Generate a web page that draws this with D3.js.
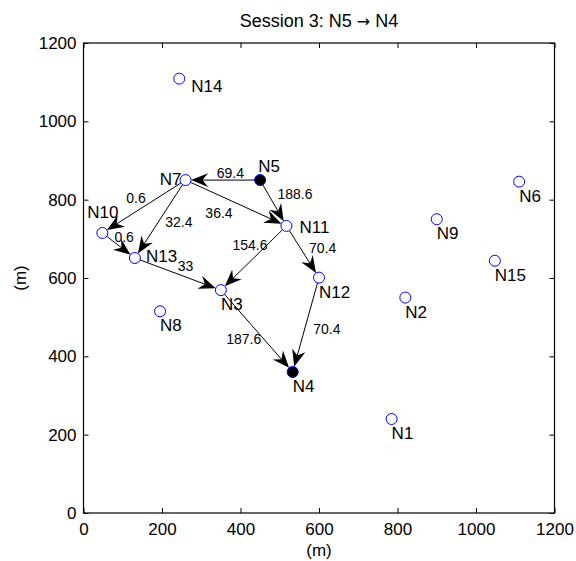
<!DOCTYPE html>
<html>
<head>
<meta charset="utf-8">
<script src="https://cdn.jsdelivr.net/npm/d3@7"></script>
<style>
  html, body { margin: 0; padding: 0; background: #fff; }
  svg { display: block; font-family: "Liberation Sans", Arial, Helvetica, sans-serif; }
</style>
</head>
<body>
<svg id="chart" width="576" height="561"></svg>
<script>
// ---------- data ----------
const titleParts = ["Session 3: N5 ", "\u2192", " N4"];
const xLabel = "(m)";
const yLabel = "(m)";
const tickValues = [0, 200, 400, 600, 800, 1000, 1200];

const nodeNames = ["N1","N2","N3","N4","N5","N6","N7","N8","N9","N10","N11","N12","N13","N14","N15"];
const nodeX = [785, 820, 350, 533, 450, 1110, 260, 195, 900, 48, 517, 600, 131, 244, 1048];
const nodeY = [240, 550, 569, 360, 850, 846, 850, 515, 750, 715, 733, 601, 651, 1109, 644];
const endpoints = ["N5", "N4"];

const edgeSource = ["N5","N5","N7","N7","N7","N10","N13","N11","N11","N3","N12"];
const edgeTarget = ["N7","N11","N10","N13","N11","N13","N3","N3","N12","N4","N4"];
const edgeWeight = ["69.4","188.6","0.6","32.4","36.4","0.6","33","154.6","70.4","187.6","70.4"];

// ---------- layout (pixel offsets for label placement) ----------
const edgeLabelDx = [7.5, 21.7, -8, 18.6, -17, 5.5, 7.6, -3.6, 20, -13, 21];
const edgeLabelDy = [-7.3, -9, -9, 3.3, 10, -8, -8, -12.7, -4, 8, 4.3];
const nodeLabelLayout = {
  "N14": {dx: 12, dy: 13, anchor: "start"},
  "N7":  {dx: -4, dy: 5, anchor: "end"},
  "N5":  {dx: -2, dy: -8, anchor: "start"},
  "N10": {dx: -15, dy: -15, anchor: "start"},
  "N13": {dx: 11, dy: 4, anchor: "start"},
  "N11": {dx: 13, dy: 7, anchor: "start"}
};
const defaultNodeLabel = {dx: 0, dy: 20, anchor: "start"};

// ---------- drawing ----------
const svg = d3.select("#chart");
const L = 83.5, R = 554.5, T = 43, B = 513;
const x = d3.scaleLinear().domain([0, 1200]).range([L, R]);
const y = d3.scaleLinear().domain([0, 1200]).range([B, T]);

const tickFont = 17;

// axes
const gx = svg.append("g").attr("transform", `translate(0,${B})`)
  .call(d3.axisBottom(x).tickValues(tickValues).tickFormat(d3.format("d"))
    .tickSizeInner(-5).tickSizeOuter(0).tickPadding(10));
const gy = svg.append("g").attr("transform", `translate(${L},0)`)
  .call(d3.axisLeft(y).tickValues(tickValues).tickFormat(d3.format("d"))
    .tickSizeInner(-5).tickSizeOuter(0).tickPadding(7));
const gt = svg.append("g").attr("transform", `translate(0,${T})`)
  .call(d3.axisTop(x).tickValues(tickValues).tickFormat("")
    .tickSizeInner(-5).tickSizeOuter(0));
const gr = svg.append("g").attr("transform", `translate(${R},0)`)
  .call(d3.axisRight(y).tickValues(tickValues).tickFormat("")
    .tickSizeInner(-5).tickSizeOuter(0));
[gx, gy, gt, gr].forEach(g => {
  g.select(".domain").remove();
  g.selectAll("line").attr("stroke", "#000").attr("stroke-width", 1);
  g.selectAll("text").attr("font-size", tickFont).attr("fill", "#000")
    .attr("font-family", "'Liberation Sans', Arial, Helvetica, sans-serif");
});
svg.append("rect").attr("x", L).attr("y", T).attr("width", R - L).attr("height", B - T)
  .attr("fill", "none").attr("stroke", "#000").attr("stroke-width", 1.2);

// title & axis labels
const title = svg.append("text").attr("x", (L + R) / 2).attr("y", 27).attr("text-anchor", "middle")
  .attr("font-size", 18);
title.append("tspan").text(titleParts[0]);
title.append("tspan").attr("font-family", "'DejaVu Sans', sans-serif").attr("font-size", 16).text(titleParts[1]);
title.append("tspan").text(titleParts[2]);
svg.append("text").attr("x", (L + R) / 2).attr("y", 556).attr("text-anchor", "middle")
  .attr("font-size", 17).text(xLabel);
svg.append("text").attr("transform", `translate(25.5,${(T + B) / 2}) rotate(-90)`)
  .attr("text-anchor", "middle").attr("font-size", 17).text(yLabel);

// nodes
const nodes = nodeNames.map((n, i) => ({name: n, x: nodeX[i], y: nodeY[i]}));
const byName = {};
nodes.forEach(n => byName[n.name] = n);
const edges = edgeSource.map((s, i) => ({s: byName[s], t: byName[edgeTarget[i]], w: edgeWeight[i], i}));

const r = 5.5;
const headL = 17, headW = 6.8, notch = 11.5;

const gEdges = svg.append("g");
edges.forEach(e => {
  const x1 = x(e.s.x), y1 = y(e.s.y), x2 = x(e.t.x), y2 = y(e.t.y);
  const dx = x2 - x1, dy = y2 - y1, len = Math.hypot(dx, dy);
  const ux = dx / len, uy = dy / len, px = -uy, py = ux;
  const tipX = x2 - ux * r, tipY = y2 - uy * r;
  const nX = tipX - ux * notch, nY = tipY - uy * notch;
  gEdges.append("line").attr("x1", x1).attr("y1", y1).attr("x2", nX + ux).attr("y2", nY + uy)
    .attr("stroke", "#000").attr("stroke-width", 1);
  const bx = tipX - ux * headL, by = tipY - uy * headL;
  const pts = [[tipX, tipY], [bx + px * headW, by + py * headW], [nX, nY], [bx - px * headW, by - py * headW]];
  gEdges.append("path").attr("d", "M" + pts.map(p => p.join(",")).join("L") + "Z")
    .attr("fill", "#000").attr("stroke", "none");
  const mx = (x1 + x2) / 2 + edgeLabelDx[e.i], my = (y1 + y2) / 2 + edgeLabelDy[e.i];
  gEdges.append("text").attr("x", mx).attr("y", my + 5).attr("text-anchor", "middle")
    .attr("font-size", 14).attr("fill", "#000").text(e.w);
});

const gNodes = svg.append("g");
nodes.forEach(n => {
  const filled = endpoints.includes(n.name);
  gNodes.append("circle").attr("cx", x(n.x)).attr("cy", y(n.y)).attr("r", r)
    .attr("fill", filled ? "#000" : "#fff").attr("stroke", "#0000ff").attr("stroke-width", 1);
  const lay = nodeLabelLayout[n.name] || defaultNodeLabel;
  gNodes.append("text").attr("x", x(n.x) + lay.dx).attr("y", y(n.y) + lay.dy)
    .attr("text-anchor", lay.anchor).attr("font-size", 17).attr("fill", "#000").text(n.name);
});
</script>
</body>
</html>
